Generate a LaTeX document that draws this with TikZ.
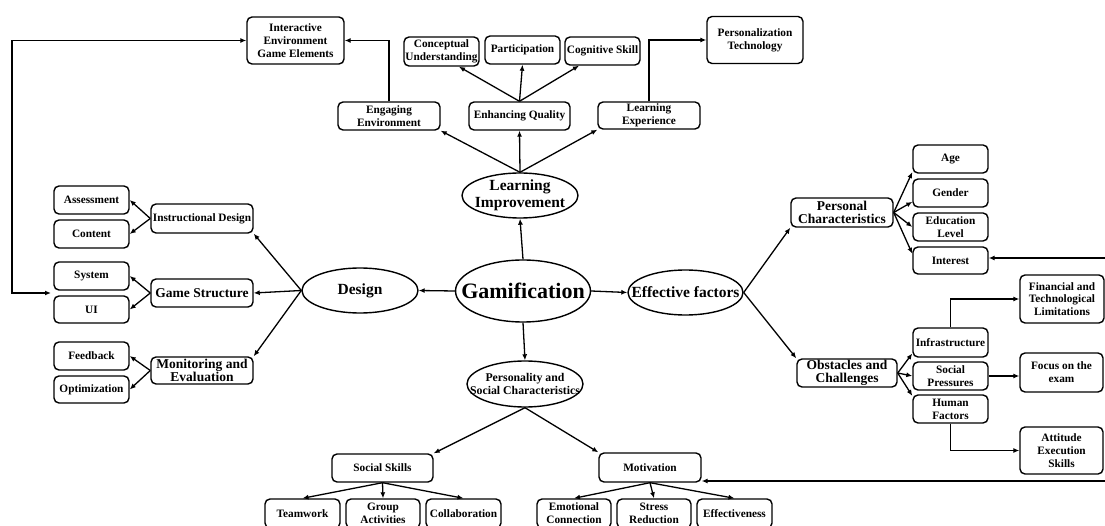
\documentclass[tikz,border=0pt]{standalone}
\usepackage{fontspec}
\setmainfont{Liberation Serif}
\usetikzlibrary{shapes.geometric, arrows.meta}

\begin{document}
\begin{tikzpicture}[
    x=1pt, y=-1pt,
    every node/.style={font=\fontsize{11.3}{12.8}\selectfont\bfseries},
    box/.style={rectangle, draw, rounded corners=5pt, line width=1.4pt, align=center, inner sep=1pt, minimum width=75pt, minimum height=28pt},
    wide/.style={box, minimum width=102pt},
    midfont/.style={font=\fontsize{13.5}{12.5}\selectfont\bfseries},
    oval/.style={ellipse, draw, line width=1.4pt, align=center, inner xsep=-14pt, inner ysep=0pt, minimum width=116pt, minimum height=45pt, font=\fontsize{15.5}{16.5}\selectfont\bfseries},
    arrow/.style={-{Latex[length=6pt,width=5pt]}, line width=1.3pt}
]
\useasboundingbox (0,0) rectangle (1105,526);
\clip (0,0) rectangle (1105,526);

\node[oval, minimum width=134pt, minimum height=62pt, font=\fontsize{22}{24}\selectfont\bfseries] (gamif) at (523,291) {Gamification};
\node[oval] (learnimp) at (520,195.5) {Learning\\Improvement};
\node[oval] (design) at (360,290.5) {Design};
\node[oval, minimum width=115pt] (effect) at (685.5,292.5) {Effective factors};
\node[oval, minimum height=46pt, font=\fontsize{11.8}{12.5}\selectfont\bfseries] (perssoc) at (525,384) {Personality and\\Social Characteristics};

\node[box, minimum width=97pt, minimum height=47pt] (inter) at (295.5,40.5) {Interactive\\Environment\\Game Elements};
\node[wide] (engage) at (389,116) {Engaging\\Environment};
\node[box, minimum height=29pt] (concept) at (441.5,51.5) {Conceptual\\Understanding};
\node[box] (partic) at (522.5,50) {Participation};
\node[box] (cognit) at (602.5,51) {Cognitive Skill};
\node[wide, minimum width=101pt] (enhance) at (519.5,116) {Enhancing Quality};
\node[wide, minimum height=27pt] (learnexp) at (649,115.5) {Learning\\Experience};
\node[box, minimum width=96pt, minimum height=47pt] (personal) at (755,40) {Personalization\\Technology};

\node[wide, minimum height=29pt] (instr) at (202,218.5) {Instructional Design};
\node[box] (assess) at (91.5,200) {Assessment};
\node[box] (content) at (91.5,234) {Content};
\node[wide, midfont] (gamestr) at (202,293) {Game Structure};
\node[box] (system) at (91.5,276) {System};
\node[box, minimum height=27pt] (ui) at (91.5,309.5) {UI};
\node[wide, midfont, minimum height=27pt] (monitor) at (202,370.5) {Monitoring and\\Evaluation};
\node[box] (feedback) at (91.5,356) {Feedback};
\node[box, minimum height=27pt] (optim) at (91.5,389.5) {Optimization};

\node[wide, midfont, minimum height=29pt] (perschar) at (842,212.5) {Personal\\Characteristics};
\node[box] (age) at (950.5,159) {Age};
\node[box] (gender) at (950.5,193) {Gender};
\node[box] (edu) at (950.5,227) {Education\\Level};
\node[box, minimum height=27pt] (interest) at (950.5,260.5) {Interest};
\node[box, minimum width=84pt, minimum height=48pt] (finance) at (1062,299) {Financial and\\Technological\\Limitations};
\node[wide, midfont, minimum width=100pt] (obstacle) at (847,373) {Obstacles and\\Challenges};
\node[box, minimum height=29pt] (infra) at (950.5,342.5) {Infrastructure};
\node[box] (social) at (950.5,376) {Social\\Pressures};
\node[box] (human) at (950.5,409) {Human\\Factors};
\node[box, minimum width=83pt, minimum height=39pt] (focus) at (1061.5,372.5) {Focus on the\\exam};
\node[box, minimum width=83pt, minimum height=47pt] (attitude) at (1061.5,450.5) {Attitude\\Execution\\Skills};

\node[wide, minimum width=101pt] (socskill) at (382.5,468) {Social Skills};
\node[wide, minimum height=29pt] (motiv) at (650,467.5) {Motivation};
\node[box, minimum height=29pt] (team) at (302.5,513.5) {Teamwork};
\node[box, minimum width=74pt, minimum height=29pt] (group) at (383,513.5) {Group\\Activities};
\node[box, minimum height=29pt] (collab) at (463.5,513.5) {Collaboration};
\node[box, minimum width=74pt, minimum height=29pt] (emot) at (574,513.5) {Emotional\\Connection};
\node[box, minimum width=74pt, minimum height=29pt] (stress) at (654,513.5) {Stress\\Reduction};
\node[box, minimum height=29pt] (effective) at (734.5,513.5) {Effectiveness};

\coordinate (railtop) at (12,40.5);
\coordinate (sugap) at (51,293);
\coordinate (rightI) at (1105,258);
\coordinate (rightM) at (1105,481);

\draw[arrow] (gamif.north) -- (learnimp.south);
\draw[arrow] (gamif.west) -- (design.east);
\draw[arrow] (gamif.east) -- (effect.west);
\draw[arrow] (gamif.south) -- (perssoc.north);

\draw[arrow] (learnimp.north) -- (engage.south east);
\draw[arrow] (learnimp.north) -- (enhance.south);
\draw[arrow] (learnimp.north) -- (learnexp.south west);
\draw[arrow] (enhance.north) -- (concept.-41);
\draw[arrow] (enhance.north) -- (partic.south);
\draw[arrow] (enhance.north) -- (cognit.-148);
\draw[arrow] (engage.north) |- (inter.east);
\draw[arrow] (learnexp.north) |- (personal.west);
\draw[{Latex[length=6pt,width=5pt]}-{Latex[length=6pt,width=5pt]}, line width=1.3pt] (inter.west) -- (railtop) |- (sugap);

\draw[arrow] (design.west) -- (instr.south east);
\draw[arrow] (design.west) -- (gamestr.east);
\draw[arrow] (design.west) -- (monitor.north east);
\draw[arrow] (instr.west) -- (assess.east);
\draw[arrow] (instr.west) -- (content.east);
\draw[arrow] (gamestr.west) -- (system.east);
\draw[arrow] (gamestr.west) -- (ui.east);
\draw[arrow] (monitor.west) -- (feedback.east);
\draw[arrow] (monitor.west) -- (optim.east);

\draw[arrow] (effect.east) -- (perschar.south west);
\draw[arrow] (effect.east) -- (obstacle.north west);
\draw[arrow] (perschar.east) -- (age.199);
\draw[arrow] (perschar.east) -- (gender.193);
\draw[arrow] (perschar.east) -- (edu.west);
\draw[arrow] (perschar.east) -- (interest.170);
\draw[arrow] (rightI) -- (rightI -| interest.east);
\draw[arrow] (obstacle.east) -- (infra.196);
\draw[arrow] (obstacle.east) -- (social.west);
\draw[arrow] (obstacle.east) -- (human.161);
\draw[arrow] (infra.north) |- (finance.west);
\draw[arrow] (social.east) -- (social.east -| focus.west);
\draw[arrow] (human.south) |- (attitude.west);

\draw[arrow] (perssoc.south) -- (socskill.north east);
\draw[arrow] (perssoc.south) -- (motiv.north west);
\draw[arrow] (socskill.south) -- (team.north);
\draw[arrow] (socskill.south) -- (group.north);
\draw[arrow] (socskill.south) -- (collab.north);
\draw[arrow] (motiv.south) -- (emot.north);
\draw[arrow] (motiv.south) -- (stress.north);
\draw[arrow] (motiv.south) -- (effective.north);
\draw[arrow] (rightM) -- (rightM -| motiv.east);
\end{tikzpicture}
\end{document}
